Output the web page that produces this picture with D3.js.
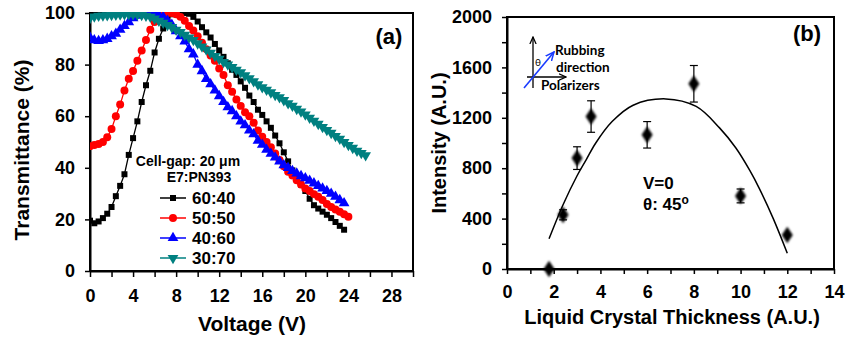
<!DOCTYPE html>
<html>
<head>
<meta charset="utf-8">
<script src="https://cdn.jsdelivr.net/npm/d3@7"></script>
<style>
  body { margin: 0; background: #fff; }
  svg text { font-family: "Liberation Sans", Arial, sans-serif; font-weight: bold; }
</style>
</head>
<body>
<div id="chart"></div>
<script>
// ---- Panel (a) data: transmittance vs voltage ----
const voltage = [0,0.4,0.8,1.2,1.6,2.0,2.4,2.8,3.2,3.6,4.0,4.4,4.8,5.2,5.6,6.0,6.4,6.8,7.2,7.6,
  8.0,8.4,8.8,9.2,9.6,10.0,10.4,10.8,11.2,11.6,12.0,12.4,12.8,13.2,13.6,14.0,14.4,14.8,15.2,15.6,
  16.0,16.4,16.8,17.2,17.6,18.0,18.4,18.8,19.2,19.6,20.0,20.4,20.8,21.2,21.6,22.0,22.4,22.8,23.2,23.6,
  24.0,24.4,24.8,25.2,25.6];

const t6040 = [19.5,18.5,19.2,20.5,22.2,24.8,29,33,37.5,45,51.5,58,65.5,72,77.6,84.7,90,94,97.5,99.5,
  100,100,100,99.7,98.5,96.7,94.5,92.5,90.5,88,85.5,83,80.5,78,76,73.5,71,68,65.5,62.5,
  60.5,58,55.5,52.5,49.5,46,42.5,39,36,33.5,31,28,25.5,24.2,23,21.8,20.5,19,17.5,16];

const t5050 = [48.4,48.8,49.2,50,51.8,55,60,64.5,70,74.5,77.5,81.5,85.5,89.5,93.5,96.5,98.5,99.5,100,100,
  99.5,98.5,97,95,93.2,91,88.5,86,83.5,81.5,78.5,76,72,69.5,66.5,64,61.5,60,57.5,54.5,
  52,50,48,45.5,43,40.6,38.5,37,35.2,33.5,32,31,29.8,28.8,27.5,26,24.8,23.8,23,22,21];

const t4060 = [90.5,89.5,89.2,89.5,90,91,92,93.5,95,96.5,98,99,99.5,99.8,99.8,99.5,99.2,98.5,97,95.5,
  93,91,89,86,84,80,77.5,74.5,72.4,70,67.8,65.5,63.5,62,60,58,56.5,54.5,53,50.5,
  49,47,45.5,44,42.5,41,40,38.8,37.8,36.8,36,35,34,33,32,31,30,28.8,27.5,26.3];

const t3070 = [98,98.6,98.9,99,99.1,99.2,99.3,99.4,99.5,99.5,99.5,99.4,99.2,98.9,98.5,97.8,97,96.2,95.3,94.5,
  93.5,92.6,91.5,90.5,89.5,88.2,87,85.8,84.6,83.3,82.2,81,80,79,78,77,75.8,74.7,73.5,72.3,
  71.2,70.2,69.2,68.2,67.3,66.2,65,64,62.8,61.8,60.6,59.4,58.2,57,55.8,54.6,53.5,52.3,51.2,50,
  48.8,47.7,46.6,45.7,44.8];

const seriesNames = ["60:40", "50:50", "40:60", "30:70"];
const seriesColors = ["#000000", "#ff0000", "#0000ff", "#008080"];
const seriesValues = [t6040, t5050, t4060, t3070];

// ---- Panel (b) data: intensity vs thickness ----
const thickness = [1.8, 2.4, 3.0, 3.6, 6.0, 8.0, 10.0, 12.0];
const intensity = [0, 430, 880, 1210, 1065, 1470, 580, 270];
const intensityErr = [0, 40, 90, 125, 105, 145, 55, 20];
const fitX = [1.8, 2.4, 3.0, 3.4, 3.8, 4.5, 5.4, 6.8, 8.1, 9.1, 9.8, 10.4, 10.8, 11.4, 12.0];
const fitY = [240, 510, 740, 870, 1000, 1170, 1300, 1350, 1290, 1120, 960, 780, 640, 400, 125];

const width = 847, height = 337;
const svg = d3.select("#chart").append("svg")
  .attr("width", width).attr("height", height);

const defs = svg.append("defs");
defs.append("filter").attr("id", "soft")
  .attr("x", "-50%").attr("y", "-50%").attr("width", "200%").attr("height", "200%")
  .append("feGaussianBlur").attr("stdDeviation", 0.9);
defs.append("marker").attr("id", "arrowBlack")
  .attr("viewBox", "0 0 10 10").attr("refX", 9).attr("refY", 5)
  .attr("markerWidth", 6).attr("markerHeight", 6).attr("orient", "auto")
  .append("path").attr("d", "M0,1 L9,5 L0,9").attr("fill", "none").attr("stroke", "#000").attr("stroke-width", 1.6);
defs.append("marker").attr("id", "arrowBlue")
  .attr("viewBox", "0 0 10 10").attr("refX", 9).attr("refY", 5)
  .attr("markerWidth", 6).attr("markerHeight", 6).attr("orient", "auto")
  .append("path").attr("d", "M0,1 L9,5 L0,9").attr("fill", "none").attr("stroke", "#1a3cff").attr("stroke-width", 1.6);

// =================== Panel (a) ===================
const xA = d3.scaleLinear().domain([0, 30]).range([90, 413]);
const yA = d3.scaleLinear().domain([0, 100]).range([271, 13]);

const gA = svg.append("g");

// frame
gA.append("rect")
  .attr("x", xA(0)).attr("y", yA(100))
  .attr("width", xA(30) - xA(0)).attr("height", yA(0) - yA(100))
  .attr("fill", "none").attr("stroke", "#000").attr("stroke-width", 2);

const xAxisA = gA.append("g")
  .attr("transform", `translate(0,${yA(0)})`)
  .call(d3.axisBottom(xA).tickValues(d3.range(0, 31, 2)).tickSize(6).tickSizeOuter(0).tickPadding(12)
    .tickFormat(d => (d % 4 === 0 && d < 30) ? d : ""));
const yAxisA = gA.append("g")
  .attr("transform", `translate(${xA(0)},0)`)
  .call(d3.axisLeft(yA).tickValues([0, 20, 40, 60, 80, 100]).tickSize(5).tickSizeOuter(0).tickPadding(10));

[xAxisA, yAxisA].forEach(ax => {
  ax.select(".domain").attr("stroke-width", 2);
  ax.selectAll(".tick line").attr("stroke-width", 1.5);
  ax.selectAll("text").style("font-size", "18px").attr("fill", "#000");
});

defs.append("clipPath").attr("id", "clipA").append("rect")
  .attr("x", xA(0)).attr("y", yA(100) - 1)
  .attr("width", xA(30) - xA(0)).attr("height", yA(0) - yA(100) + 2);

const symbolTypes = [d3.symbolSquare, d3.symbolCircle, d3.symbolTriangle, d3.symbolTriangle];
const symbolSizes = [36, 50, 50, 50];
const symbolRot = [0, 0, 0, 180];

function symbolPath(i) {
  return d3.symbol().type(symbolTypes[i]).size(symbolSizes[i])();
}

const plotA = gA.append("g").attr("clip-path", "url(#clipA)");
const lineA = d3.line().x(d => xA(d[0])).y(d => yA(d[1]));

seriesValues.forEach((vals, i) => {
  const pts = vals.map((v, k) => [voltage[k], v]);
  const g = plotA.append("g").attr("class", "series-" + i);
  g.append("path").datum(pts)
    .attr("d", lineA)
    .attr("fill", "none").attr("stroke", seriesColors[i]).attr("stroke-width", 1.3);
  g.selectAll("path.pt").data(pts).enter().append("path")
    .attr("class", "pt")
    .attr("d", symbolPath(i))
    .attr("transform", d => `translate(${xA(d[0])},${yA(d[1])}) rotate(${symbolRot[i]})`)
    .attr("fill", seriesColors[i]);
});

// axis titles
gA.append("text")
  .attr("x", 252).attr("y", 331)
  .attr("text-anchor", "middle")
  .style("font-size", "21px")
  .text("Voltage (V)");
gA.append("text")
  .attr("transform", "translate(29,150) rotate(-90)")
  .attr("text-anchor", "middle")
  .style("font-size", "21px")
  .text("Transmittance (%)");
gA.append("text")
  .attr("x", 389).attr("y", 44)
  .attr("text-anchor", "middle")
  .style("font-size", "22px")
  .text("(a)");

// legend
const legA = gA.append("g");
legA.append("text").attr("x", 188).attr("y", 166).attr("text-anchor", "middle")
  .style("font-size", "14px").text("Cell-gap: 20 μm");
legA.append("text").attr("x", 199).attr("y", 182).attr("text-anchor", "middle")
  .style("font-size", "14px").text("E7:PN393");
seriesNames.forEach((name, i) => {
  const yy = 198 + i * 20;
  legA.append("line").attr("x1", 160).attr("x2", 186).attr("y1", yy).attr("y2", yy)
    .attr("stroke", seriesColors[i]).attr("stroke-width", 1.5);
  legA.append("path").attr("d", symbolPath(i))
    .attr("transform", `translate(173,${yy}) rotate(${symbolRot[i]})`)
    .attr("fill", seriesColors[i]);
  legA.append("text").attr("x", 192).attr("y", yy + 6)
    .style("font-size", "17px").text(name);
});

// =================== Panel (b) ===================
const xB = d3.scaleLinear().domain([0, 14]).range([507, 834]);
const yB = d3.scaleLinear().domain([0, 2000]).range([269, 17]);

const gB = svg.append("g");
gB.append("rect")
  .attr("x", xB(0)).attr("y", yB(2000))
  .attr("width", xB(14) - xB(0)).attr("height", yB(0) - yB(2000))
  .attr("fill", "none").attr("stroke", "#000").attr("stroke-width", 2);

const xAxisB = gB.append("g")
  .attr("transform", `translate(0,${yB(0)})`)
  .call(d3.axisBottom(xB).tickValues(d3.range(0, 15, 1)).tickSize(5).tickSizeOuter(0).tickPadding(11)
    .tickFormat(d => d % 2 === 0 ? d : ""));
const yAxisB = gB.append("g")
  .attr("transform", `translate(${xB(0)},0)`)
  .call(d3.axisLeft(yB).tickValues(d3.range(0, 2001, 200)).tickSize(5).tickSizeOuter(0).tickPadding(10)
    .tickFormat(d => d % 400 === 0 ? d : ""));

[xAxisB, yAxisB].forEach(ax => {
  ax.select(".domain").attr("stroke-width", 2);
  ax.selectAll(".tick line").attr("stroke-width", 1.5);
  ax.selectAll("text").style("font-size", "18px").attr("fill", "#000");
});

// fitted curve
gB.append("path")
  .datum(fitX.map((x, k) => [x, fitY[k]]))
  .attr("d", d3.line().x(d => xB(d[0])).y(d => yB(d[1])).curve(d3.curveCatmullRom))
  .attr("fill", "none").attr("stroke", "#000").attr("stroke-width", 1.5);

// error bars + diamonds
const pointsB = thickness.map((x, k) => ({ x: x, y: intensity[k], e: intensityErr[k] }));
const errG = gB.append("g");
pointsB.filter(d => d.e > 30).forEach(d => {
  errG.append("line").attr("x1", xB(d.x)).attr("x2", xB(d.x))
    .attr("y1", yB(d.y - d.e)).attr("y2", yB(d.y + d.e))
    .attr("stroke", "#000").attr("stroke-width", 1.2);
  [d.y - d.e, d.y + d.e].forEach(v => {
    errG.append("line").attr("x1", xB(d.x) - 4).attr("x2", xB(d.x) + 4)
      .attr("y1", yB(v)).attr("y2", yB(v))
      .attr("stroke", "#000").attr("stroke-width", 1.2);
  });
});
gB.append("g").selectAll("path").data(pointsB).enter().append("path")
  .attr("d", d3.symbol().type(d3.symbolDiamond).size(80)())
  .attr("transform", d => `translate(${xB(d.x)},${yB(d.y)}) scale(1.15,1)`)
  .attr("fill", "#000")
  .attr("filter", "url(#soft)");

// titles
gB.append("text")
  .attr("x", 672).attr("y", 324)
  .attr("text-anchor", "middle")
  .style("font-size", "20px")
  .text("Liquid Crystal Thickness (A.U.)");
gB.append("text")
  .attr("transform", "translate(446,143) rotate(-90)")
  .attr("text-anchor", "middle")
  .style("font-size", "20px")
  .text("Intensity (A.U.)");
gB.append("text")
  .attr("x", 807).attr("y", 41)
  .attr("text-anchor", "middle")
  .style("font-size", "22px")
  .text("(b)");

// annotation V=0, theta
gB.append("text").attr("x", 643).attr("y", 189).style("font-size", "17px").text("V=0");
const th = gB.append("text").attr("x", 643).attr("y", 210).style("font-size", "17px");
th.append("tspan").text("θ: 45");
th.append("tspan").attr("dy", -6).style("font-size", "12px").text("o");

// inset diagram
const inset = gB.append("g");
inset.append("line").attr("x1", 533).attr("y1", 88).attr("x2", 533).attr("y2", 37)
  .attr("stroke", "#000").attr("stroke-width", 1.3).attr("marker-end", "url(#arrowBlack)");
inset.append("line").attr("x1", 527).attr("y1", 77).attr("x2", 566).attr("y2", 77)
  .attr("stroke", "#000").attr("stroke-width", 1.3).attr("marker-end", "url(#arrowBlack)");
inset.append("line").attr("x1", 524).attr("y1", 88).attr("x2", 554).attr("y2", 52)
  .attr("stroke", "#1a3cff").attr("stroke-width", 1.6).attr("marker-end", "url(#arrowBlue)");
inset.append("text").attr("x", 535).attr("y", 66).style("font-size", "10px")
  .style("font-weight", "normal").style("font-family", "Lato, sans-serif").text("θ");
inset.append("text").attr("x", 555).attr("y", 55).style("font-size", "13.5px")
  .style("font-family", "Lato, sans-serif").text("Rubbing");
inset.append("text").attr("x", 556).attr("y", 72).style("font-size", "13.5px")
  .style("font-family", "Lato, sans-serif").text("direction");
inset.append("text").attr("x", 541).attr("y", 90).style("font-size", "13.5px")
  .style("font-family", "Lato, sans-serif").text("Polarizers");
</script>
</body>
</html>
